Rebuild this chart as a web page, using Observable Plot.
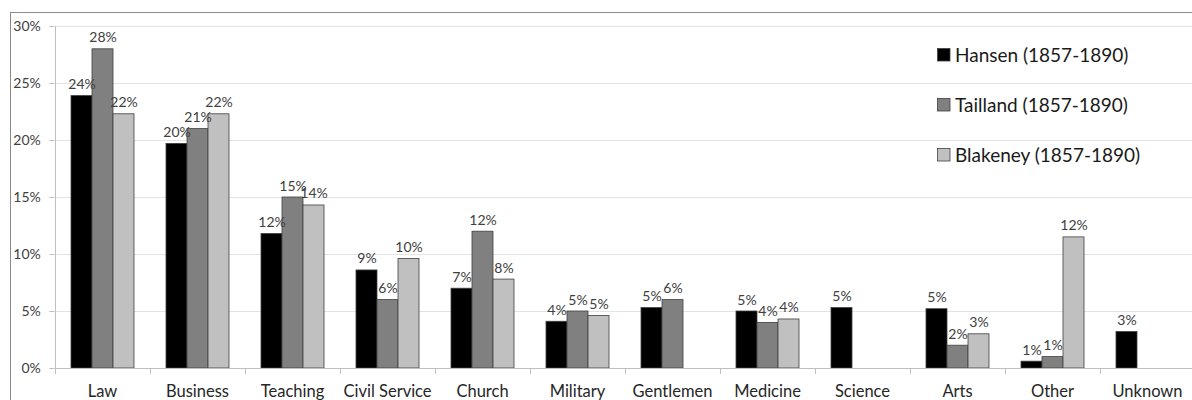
<!DOCTYPE html>
<html>
<head>
<meta charset="utf-8">
<script src="https://cdn.jsdelivr.net/npm/d3@7"></script>
<script src="https://cdn.jsdelivr.net/npm/@observablehq/plot@0.6"></script>
<style>
  html, body { margin: 0; padding: 0; background: #fff; }
  #chart { position: relative; width: 1192px; height: 400px; overflow: hidden; }
  svg { display: block; }
</style>
</head>
<body>
<div id="chart"></div>
<script>
const categories = ["Law", "Business", "Teaching", "Civil Service", "Church", "Military", "Gentlemen", "Medicine", "Science", "Arts", "Other", "Unknown"];
const series = ["Hansen (1857-1890)", "Tailland (1857-1890)", "Blakeney (1857-1890)"];
const hansen   = [23.9, 19.7, 11.8, 8.6, 7.0, 4.1, 5.3, 5.0, 5.3, 5.2, 0.6, 3.2];
const tailland = [28.0, 21.0, 15.0, 6.0, 12.0, 5.0, 6.0, 4.0, null, 2.0, 1.0, null];
const blakeney = [22.3, 22.3, 14.3, 9.6, 7.8, 4.6, null, 4.3, null, 3.0, 11.5, null];
const yTicks = [0, 5, 10, 15, 20, 25, 30];
const colors = ["#000000", "#808080", "#c0c0c0"];

const seriesValues = [hansen, tailland, blakeney];
const data = categories.flatMap((c, i) =>
  series.map((s, j) => ({category: c, series: s, value: seriesValues[j][i]}))
).filter(d => d.value != null);

const W = 1192, H = 400;
const mL = 52, mR = -4;
const padInner = 0.33, padOuter = 0.165;
// offset that moves the y axis from the first facet to the outer plot edge
const facetStep = (W - mL - mR) / (categories.length - padInner + 2 * padOuter);
const axisShift = -padOuter * facetStep;

const plot = Plot.plot({
  width: W,
  height: H,
  marginLeft: mL,
  marginRight: mR,
  marginTop: 26,
  marginBottom: 32,
  style: {fontFamily: "Lato, 'Open Sans', sans-serif", background: "transparent", overflow: "visible"},
  fx: {domain: categories, paddingInner: padInner, paddingOuter: padOuter, label: null},
  x: {domain: series, padding: 0, axis: null},
  y: {domain: [0, 30], axis: null},
  color: {domain: series, range: colors},
  marks: [
    Plot.axisY(yTicks, {tickFormat: d => d + "%", tickSize: 5, tickPadding: 9, fontSize: 14, fill: "#404040", stroke: "#bfbfbf", label: null, dx: axisShift}),
    Plot.axisFx({anchor: "bottom", tickSize: 0, tickPadding: 17, fontSize: 16.5, fill: "#262626", label: null}),
    Plot.barY(data, {fx: "category", x: "series", y: "value", fill: "series", stroke: "#404040", strokeWidth: 0.8}),
    Plot.text(data, {fx: "category", x: "series", y: "value", text: d => Math.round(d.value) + "%", dy: -7, lineAnchor: "bottom", fontSize: 14, fill: "#404040"})
  ]
});

document.getElementById("chart").appendChild(plot);

// Excel-style extras drawn from the plot's own scales: grid, axis line, separators, border, legend
const svg = d3.select(plot);
const fx = plot.scale("fx");
const y = plot.scale("y");
const y0 = y.apply(0), yTop = y.apply(30);
const gap = fx.step - fx.bandwidth;
const left0 = fx.apply(categories[0]) - gap / 2;

const under = svg.insert("g", "g");
yTicks.slice(1).forEach(t => {
  const gy = Math.round(y.apply(t)) + 0.5;
  under.append("line").attr("x1", left0).attr("x2", W).attr("y1", gy).attr("y2", gy).attr("stroke", "#e3e3e3");
});

const over = svg.append("g");
over.append("line").attr("x1", left0).attr("x2", W).attr("y1", Math.round(y0) + 0.5).attr("y2", Math.round(y0) + 0.5)
  .attr("stroke", "#bfbfbf");
under.append("line").attr("x1", Math.round(left0) + 0.5).attr("x2", Math.round(left0) + 0.5).attr("y1", yTop).attr("y2", y0)
  .attr("stroke", "#bfbfbf");
categories.forEach(c => {
  const bx = Math.round(fx.apply(c) - gap / 2) + 0.5;
  over.append("line").attr("x1", bx).attr("x2", bx).attr("y1", y0).attr("y2", y0 + 6).attr("stroke", "#bfbfbf");
});
over.append("rect").attr("x", 10.5).attr("y", 12.5).attr("width", W + 50).attr("height", H + 50)
  .attr("fill", "none").attr("stroke", "#8a8a8a");

const legend = over.append("g").attr("font-family", "Lato, 'Open Sans', sans-serif").attr("font-size", 19)
  .attr("text-anchor", "start");
series.forEach((s, i) => {
  const cy = 55 + i * 50;
  legend.append("rect").attr("x", 937.5).attr("y", cy - 6.5).attr("width", 12.5).attr("height", 12.5)
    .attr("fill", colors[i]).attr("stroke", "#404040").attr("stroke-width", 0.8);
  legend.append("text").attr("x", 955).attr("y", cy).attr("dy", "0.35em").attr("fill", "#1a1a1a").text(s);
});
</script>
</body>
</html>
